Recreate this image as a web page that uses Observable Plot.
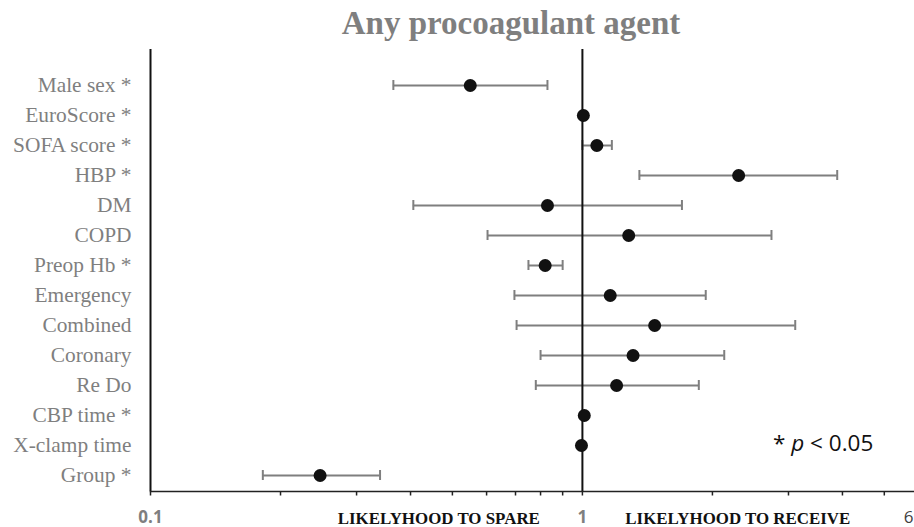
<!DOCTYPE html>
<html>
<head>
<meta charset="utf-8">
<script src="https://cdn.jsdelivr.net/npm/d3@7"></script>
<script src="https://cdn.jsdelivr.net/npm/@observablehq/plot@0.6"></script>
<style>
  body { margin: 0; background: #fff; overflow: hidden; }
  #wrap { position: relative; width: 914px; height: 527px; }
  #title {
    height: 45px; box-sizing: border-box; padding-top: 7px; padding-left: 108px;
    font: bold 33px "Liberation Serif", "Times New Roman", serif; line-height: 1;
    color: #7f7f7f; text-align: center; white-space: nowrap;
  }
  #note {
    position: absolute; left: 773px; top: 432px;
    font: 22.5px "Open Sans", sans-serif; color: #111; white-space: nowrap; line-height: 1;
  }
  #chart svg { display: block; overflow: visible; }
</style>
</head>
<body>
<div id="wrap">
  <div id="title">Any procoagulant agent</div>
  <div id="chart"></div>
  <div id="note">* <i>p</i> &lt; 0.05</div>
</div>
<script>
// Risk factors, top to bottom
const factors = [
  "Male sex *", "EuroScore *", "SOFA score *", "HBP *", "DM", "COPD", "Preop Hb *",
  "Emergency", "Combined", "Coronary", "Re Do", "CBP time *", "X-clamp time", "Group *"
];
// Odds ratios with 95% confidence limits
const oddsRatio = [0.55, 1.005, 1.08, 2.30, 0.83, 1.28, 0.82, 1.16, 1.47, 1.31, 1.20, 1.01, 0.995, 0.247];
const ciLow     = [0.365, 0.995, 1.00, 1.355, 0.406, 0.603, 0.75, 0.696, 0.704, 0.80, 0.78, 1.00, 0.985, 0.182];
const ciHigh    = [0.83, 1.015, 1.17, 3.89, 1.70, 2.74, 0.90, 1.93, 3.11, 2.13, 1.86, 1.02, 1.005, 0.34];

// Log axis ticks
const minorTicks = [0.1, 0.2, 0.3, 0.4, 0.5, 0.6, 0.7, 0.8, 0.9, 1, 2, 3, 4, 5];
const labeledTicks = [0.1, 1];
const endTick = [6];

// Direction captions under the axis
const sideLabels = ["LIKELYHOOD TO SPARE", "LIKELYHOOD TO RECEIVE"];
const sidePositions = [0.465, 2.29];

const rows = factors.map((factor, i) => ({factor, or: oddsRatio[i], lo: ciLow[i], hi: ciHigh[i]}));
const sides = sideLabels.map((label, i) => ({label, at: sidePositions[i]}));

const gray = "#7f7f7f";
const serif = "'Liberation Serif', 'Times New Roman', serif";
const sans = "'Open Sans', sans-serif";

const chart = Plot.plot({
  width: 914,
  height: 482,
  marginTop: 4,
  marginBottom: 36,
  marginLeft: 150,
  marginRight: 0,
  style: {background: "transparent"},
  x: {type: "log", domain: [0.1, 6], range: [150, 918]},
  y: {type: "band", domain: factors, padding: 0, insetTop: 19},
  marks: [
    // confidence intervals with end caps
    Plot.ruleY(rows, {y: "factor", x1: "lo", x2: "hi", stroke: gray, strokeWidth: 2}),
    Plot.tickX(rows, {x: "lo", y: "factor", insetTop: 10, insetBottom: 10, stroke: gray, strokeWidth: 2}),
    Plot.tickX(rows, {x: "hi", y: "factor", insetTop: 10, insetBottom: 10, stroke: gray, strokeWidth: 2}),
    // axis lines and the line of no effect
    Plot.ruleX([0.1], {stroke: "#111", strokeWidth: 2}),
    Plot.ruleX([1], {stroke: "#111", strokeWidth: 2}),
    Plot.frame({anchor: "bottom", stroke: "#222", strokeWidth: 1.5}),
    // odds ratio points
    Plot.dot(rows, {x: "or", y: "factor", r: 6.5, fill: "#111", stroke: "none"}),
    // y axis labels
    Plot.axisY({tickSize: 0, tickPadding: 19, fontSize: 21.4, fontFamily: serif, fill: gray, label: null}),
    // x axis ticks and labels
    Plot.axisX({ticks: minorTicks, tickSize: 4.5, stroke: "#222", strokeWidth: 1.5, tickFormat: () => "", label: null}),
    Plot.axisX({ticks: labeledTicks, tickSize: 0, tickPadding: 19, fontSize: 17, fontWeight: "bold", fontFamily: sans, fill: gray, tickFormat: d => String(d), label: null}),
    Plot.axisX({ticks: endTick, tickSize: 0, tickPadding: 19, dx: -10, fontSize: 17, fontFamily: sans, fill: "#404040", tickFormat: d => String(d), label: null}),
    // direction captions
    Plot.text(sides, {x: "at", text: "label", frameAnchor: "bottom", dy: 32, lineAnchor: "bottom", fontSize: 16.9, fontWeight: "bold", fontFamily: serif, fill: "#111"})
  ]
});

document.getElementById("chart").appendChild(chart);
</script>
</body>
</html>
